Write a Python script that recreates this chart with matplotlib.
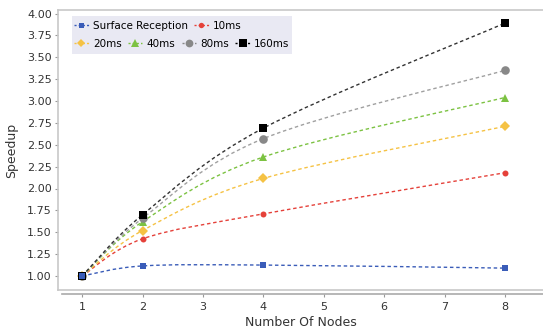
import numpy as np
import matplotlib
matplotlib.use("Agg")
import matplotlib.pyplot as plt
from matplotlib.path import Path
from matplotlib.patches import PathPatch, Rectangle
from matplotlib.lines import Line2D

# data
nodes = [1, 2, 4, 8]
surface = [1.00, 1.115, 1.125, 1.09]
ms10 = [1.00, 1.425, 1.71, 2.18]
ms20 = [1.00, 1.52, 2.115, 2.71]
ms40 = [1.00, 1.62, 2.36, 3.04]
ms80 = [1.00, 1.66, 2.57, 3.35]
ms160 = [1.00, 1.70, 2.69, 3.89]
names = ["Surface Reception", "10ms", "20ms", "40ms", "80ms", "160ms"]
series = [surface, ms10, ms20, ms40, ms80, ms160]

colors = ["#3a5cb8", "#e5413a", "#f5c244", "#7cc242", "#888888", "#000000"]
line_colors = ["#3a5cb8", "#e5413a", "#f5c244", "#7cc242", "#a0a0a0", "#333333"]
markers = ["s", "o", "D", "^", "o", "s"]
msizes = [4.0, 4.3, 4.6, 6.0, 6.2, 6.0]
grid_c = "#c8c8c8"


def smooth_path(xs, ys, k=6.0):
    # catmull-rom style cubic bezier through the points
    pts = np.column_stack([xs, ys]).astype(float)
    n = len(pts)
    verts = [pts[0]]
    codes = [Path.MOVETO]
    for i in range(n - 1):
        p0 = pts[max(i - 1, 0)]
        p1 = pts[i]
        p2 = pts[i + 1]
        p3 = pts[min(i + 2, n - 1)]
        verts += [p1 + (p2 - p0) / k, p2 - (p3 - p1) / k, p2]
        codes += [Path.CURVE4] * 3
    return Path(verts, codes)


fig = plt.figure(figsize=(5.43, 3.31), dpi=100)
ax = fig.add_axes([58 / 543, 1 - 290 / 331, 1 - 58 / 543, 280 / 331])

for ys, c in zip(series, line_colors):
    ax.add_patch(PathPatch(smooth_path(nodes, ys), fill=False, edgecolor=c,
                           lw=1.0, linestyle=(0, (2.5, 2)), zorder=2))
for i, (ys, c, m, ms) in enumerate(zip(series, colors, markers, msizes)):
    ax.plot(nodes, ys, linestyle="none", marker=m, color=c, ms=ms,
            markeredgewidth=0, zorder=4 if i == 0 else 3)

ax.set_xlim(0.6, 8.63)
ax.set_ylim(0.84, 4.04)
ax.set_xticks(range(1, 9))
ax.set_yticks(np.arange(1.0, 4.01, 0.25))
ax.set_yticklabels(["%.2f" % v for v in np.arange(1.0, 4.01, 0.25)])
ax.tick_params(labelsize=8, colors="#333333", length=2.5, width=0.8,
               color="#999999", pad=2)
ax.tick_params(axis="x", pad=3.5)

for s in ["top", "left", "right"]:
    ax.spines[s].set_color(grid_c)
    ax.spines[s].set_linewidth(1.2)
ax.spines["right"].set_visible(False)
ax.spines["bottom"].set_position(("outward", 3))
ax.spines["bottom"].set_color("#aaaaaa")
ax.spines["bottom"].set_linewidth(1.2)
ax.spines["bottom"].set_bounds(0.67, 8.63)
ax.axhline(0.84, color=grid_c, lw=1.2, clip_on=False)

ax.set_xlabel("Number Of Nodes", fontsize=9, color="#333333", labelpad=2.5)
ax.set_ylabel("Speedup", fontsize=9, color="#333333", labelpad=6)

# legend in a lavender box, two rows like the reference
ax.add_patch(Rectangle((0.029, 0.843), 0.453, 0.136, transform=ax.transAxes,
                       facecolor="#e9e9f3", edgecolor="none", zorder=5))
handles = [Line2D([], [], color=c, marker=m, ms=ms * 0.9, markeredgewidth=0,
                  lw=1.0, linestyle=(0, (1.5, 1.5)))
           for c, m, ms in zip(colors, markers, msizes)]
legkw = dict(loc="center left", frameon=False, fontsize=7.5, handlelength=1.4,
             handletextpad=0.4, columnspacing=0.6, borderaxespad=0,
             borderpad=0)
leg1 = ax.legend(handles[:2], names[:2], ncol=2,
                 bbox_to_anchor=(0.033, 0.943), **legkw)
leg1.set_zorder(6)
ax.add_artist(leg1)
leg2 = ax.legend(handles[2:], names[2:], ncol=4,
                 bbox_to_anchor=(0.033, 0.879), **legkw)
leg2.set_zorder(6)

fig.savefig("out.png", dpi=100)
